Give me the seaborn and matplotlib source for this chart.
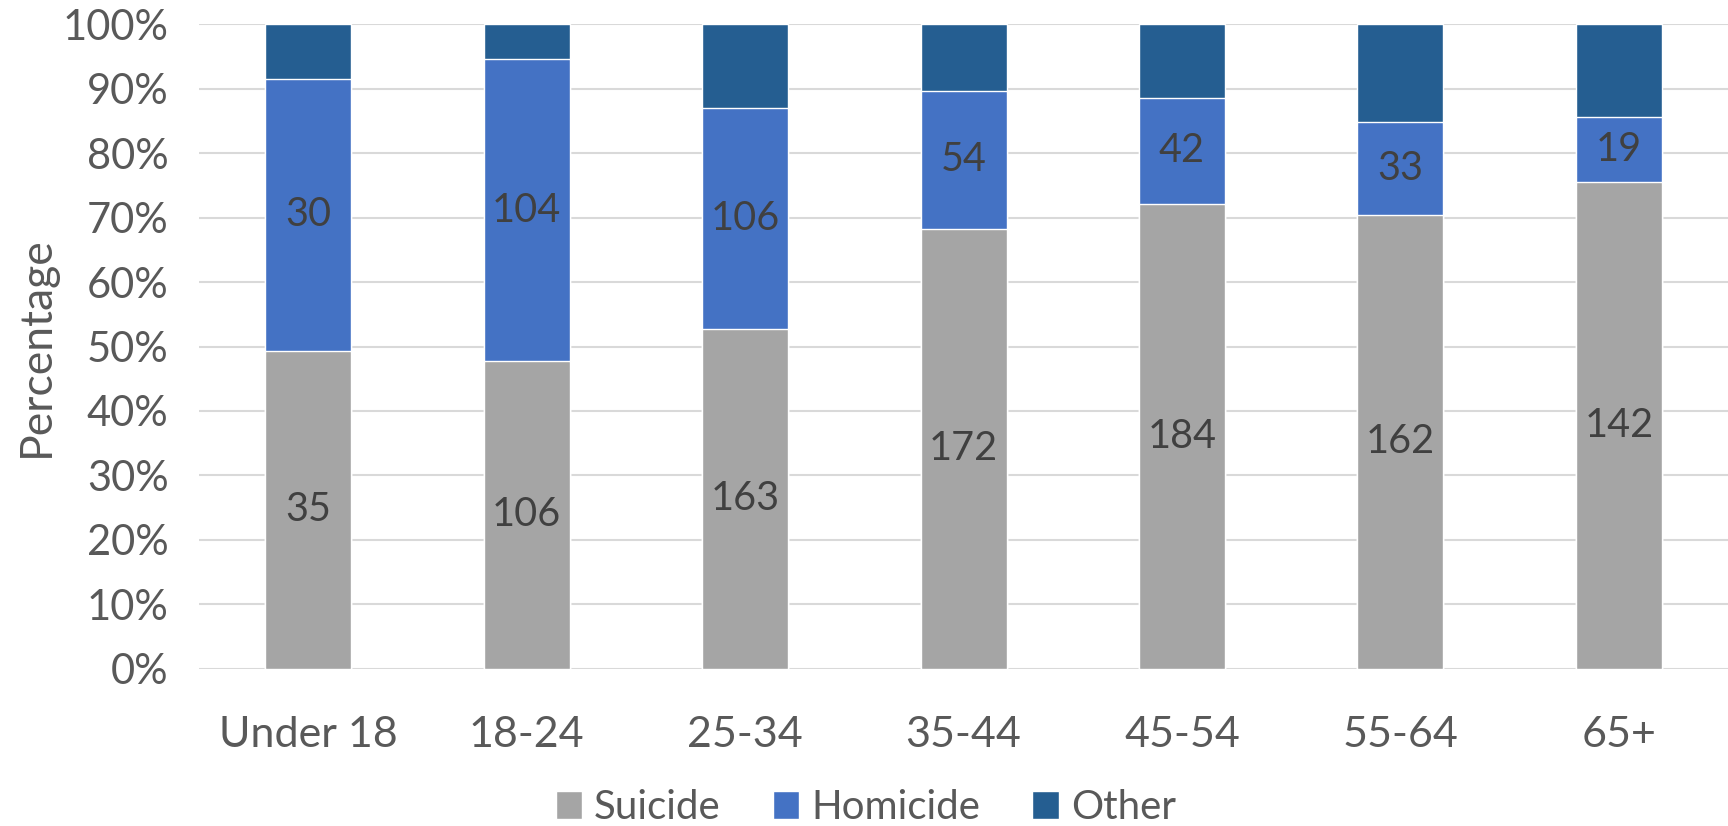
import numpy as np
import pandas as pd
import matplotlib
matplotlib.use("Agg")
import matplotlib.pyplot as plt
import seaborn as sns
from matplotlib.patches import Patch

# counts per age group
age_groups = ["Under 18", "18-24", "25-34", "35-44", "45-54", "55-64", "65+"]
suicide = [35, 106, 163, 172, 184, 162, 142]
homicide = [30, 104, 106, 54, 42, 33, 19]
other = [6, 12, 40, 26, 29, 35, 27]
yticks = [0, 10, 20, 30, 40, 50, 60, 70, 80, 90, 100]

colors = {"Suicide": "#A5A5A5", "Homicide": "#4472C4", "Other": "#255E91"}

df = pd.DataFrame({"age": age_groups, "Suicide": suicide, "Homicide": homicide, "Other": other})
total = df[["Suicide", "Homicide", "Other"]].sum(axis=1)
df["suicide_pct"] = df["Suicide"] / total * 100
df["homicide_pct"] = df["Homicide"] / total * 100
df["cum_homicide"] = df["suicide_pct"] + df["homicide_pct"]
df["cum_other"] = df["cum_homicide"] + df["Other"] / total * 100

sns.set_theme(style="white")
plt.rcParams["font.family"] = ["Lato", "DejaVu Sans"]

fig = plt.figure(figsize=(17.28, 8.26), dpi=100)
ax = fig.add_axes([0.1152, 0.1904, 0.8848, 0.7802])

# layered cumulative bars give the stacked look
w = 0.394
sns.barplot(data=df, x="age", y="cum_other", color=colors["Other"], width=w, saturation=1, ax=ax, zorder=2)
sns.barplot(data=df, x="age", y="cum_homicide", color=colors["Homicide"], width=w, saturation=1, ax=ax, zorder=3)
sns.barplot(data=df, x="age", y="suicide_pct", color=colors["Suicide"], width=w, saturation=1, ax=ax, zorder=4)

label_color = "#404040"
for i, row in df.iterrows():
    ax.text(i, row["suicide_pct"] / 2, str(row["Suicide"]), ha="center", va="center",
            fontsize=28.5, color=label_color, zorder=5)
    ax.text(i, row["suicide_pct"] + row["homicide_pct"] / 2, str(row["Homicide"]), ha="center",
            va="center", fontsize=28.5, color=label_color, zorder=5)

ax.set_ylim(0, 100)
ax.set_xlim(-0.5, len(age_groups) - 0.5)
ax.set_yticks(yticks)
ax.set_yticklabels([f"{t}%" for t in yticks])
ax.yaxis.grid(True, color="#D9D9D9", linewidth=1.5, zorder=0)
ax.set_axisbelow(True)
for s in ax.spines.values():
    s.set_visible(False)
ax.tick_params(axis="y", length=0, labelsize=30, colors="#595959", pad=22)
ax.tick_params(axis="x", length=0, labelsize=31, colors="#595959", pad=34)
ax.set_xlabel("")
ax.set_ylabel("Percentage", fontsize=32, color="#595959", labelpad=4)

handles = [Patch(facecolor=colors[k], label=k) for k in ["Suicide", "Homicide", "Other"]]
fig.legend(handles=handles, loc="center", bbox_to_anchor=(0.501, 0.022), ncol=3, frameon=False,
           fontsize=29, labelcolor="#595959", handlelength=0.65, handleheight=0.7,
           handletextpad=0.3, columnspacing=1.3)

fig.savefig("out.png", dpi=100)
